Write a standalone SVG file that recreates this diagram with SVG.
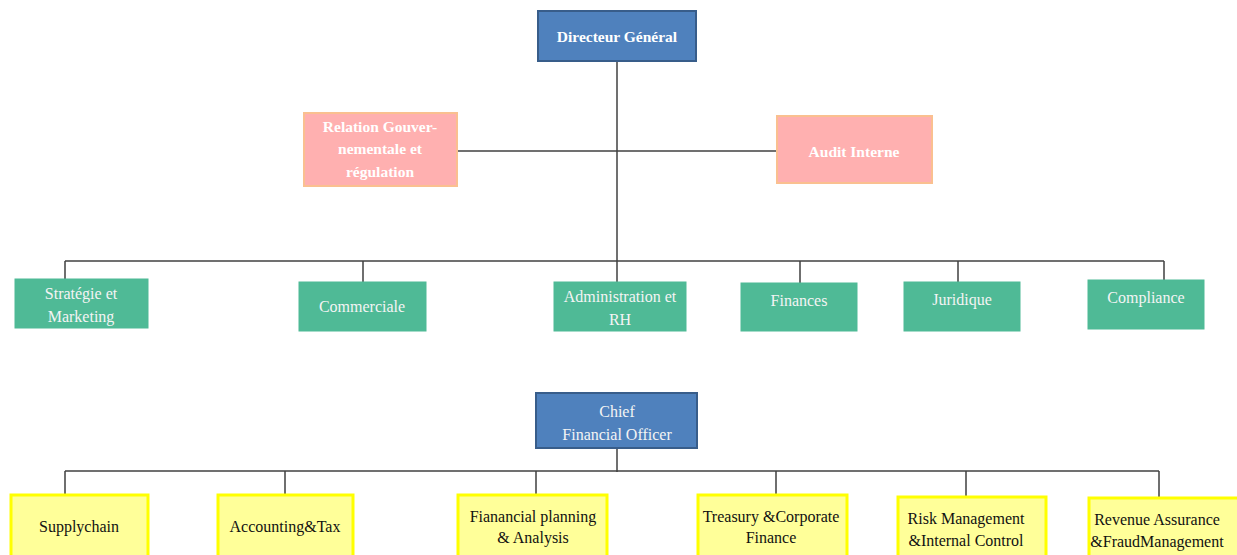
<svg xmlns="http://www.w3.org/2000/svg" width="1237" height="555" viewBox="0 0 1237 555">
<style>
.blue{fill:#4f81bd;stroke:#385d8a;stroke-width:2}
.pink{fill:#ffb0b0;stroke:#fac090;stroke-width:2}
.green{fill:#4fba96;stroke:#4fba96;stroke-width:1}
.yellow{fill:#ffff99;stroke:#ffff00;stroke-width:3}
.line{stroke:#404040;stroke-width:1.5;fill:none}
text{font-family:"Liberation Serif","DejaVu Serif",serif;text-anchor:middle}
.tb{fill:#ffffff;font-weight:bold;font-size:15.5px}
.tw{fill:#f4f4f4;font-size:16px}
.tk{fill:#111111;font-size:16px}
</style>
<g id="connectors">
<path class="line" d="M617,61 V282"/>
<path class="line" d="M457,151 H778"/>
<path class="line" d="M65,261 H1164"/>
<path class="line" d="M65,261 V279 M363,261 V282 M800,261 V283 M958,261 V282 M1164,261 V280"/>
<path class="line" d="M617,448 V472"/>
<path class="line" d="M65,471 H1159"/>
<path class="line" d="M65,471 V494 M285,471 V494 M536,471 V494 M776,471 V494 M966,471 V496 M1159,471 V497"/>
</g>
<g id="directeur"><rect class="blue" x="538" y="11" width="158" height="50"/><text class="tb" x="617" y="42">Directeur Général</text></g>
<g id="relation"><rect class="pink" x="304" y="113" width="153" height="73"/><text class="tb" x="380" y="132">Relation Gouver-</text><text class="tb" x="380" y="154">nementale et</text><text class="tb" x="380" y="177">régulation</text></g>
<g id="audit"><rect class="pink" x="777" y="116" width="155" height="67"/><text class="tb" x="854" y="157">Audit Interne</text></g>
<g id="strategie"><rect class="green" x="15" y="279" width="133" height="49"/><text class="tw" x="81" y="299">Stratégie et</text><text class="tw" x="81" y="322">Marketing</text></g>
<g id="commerciale"><rect class="green" x="299" y="282" width="127" height="49"/><text class="tw" x="362" y="312">Commerciale</text></g>
<g id="administration"><rect class="green" x="554" y="282" width="132" height="49"/><text class="tw" x="620" y="302">Administration et</text><text class="tw" x="620" y="325">RH</text></g>
<g id="finances"><rect class="green" x="741" y="283" width="116" height="48"/><text class="tw" x="799" y="306">Finances</text></g>
<g id="juridique"><rect class="green" x="904" y="282" width="116" height="49"/><text class="tw" x="962" y="305">Juridique</text></g>
<g id="compliance"><rect class="green" x="1088" y="280" width="116" height="49"/><text class="tw" x="1146" y="303">Compliance</text></g>
<g id="cfo"><rect class="blue" x="536" y="393" width="161" height="55"/><text class="tw" x="617" y="417">Chief</text><text class="tw" x="617" y="440">Financial Officer</text></g>
<g id="supplychain"><rect class="yellow" x="11" y="495" width="137" height="62"/><text class="tk" x="79" y="532">Supplychain</text></g>
<g id="accounting"><rect class="yellow" x="218" y="495" width="135" height="62"/><text class="tk" x="285" y="532">Accounting&amp;Tax</text></g>
<g id="fpa"><rect class="yellow" x="458" y="495" width="149" height="62"/><text class="tk" x="533" y="522">Fianancial planning</text><text class="tk" x="533" y="543">&amp; Analysis</text></g>
<g id="treasury"><rect class="yellow" x="698" y="495" width="149" height="62"/><text class="tk" x="771" y="522">Treasury &amp;Corporate</text><text class="tk" x="771" y="543">Finance</text></g>
<g id="risk"><rect class="yellow" x="898" y="497" width="148" height="60"/><text class="tk" x="966" y="524">Risk Management</text><text class="tk" x="966" y="546">&amp;Internal Control</text></g>
<g id="revenue"><rect class="yellow" x="1089" y="498" width="150" height="59"/><text class="tk" x="1157" y="525">Revenue Assurance</text><text class="tk" x="1157" y="547">&amp;FraudManagement</text></g>
</svg>
